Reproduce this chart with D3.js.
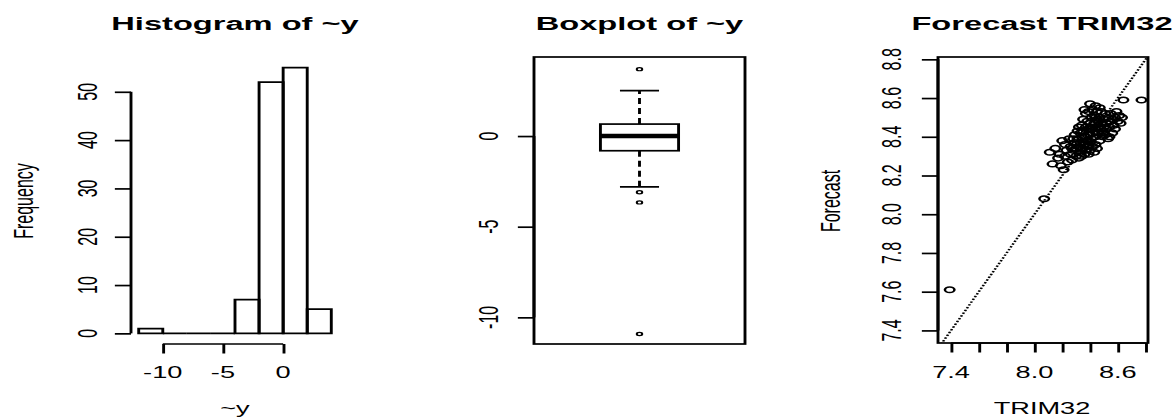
<!DOCTYPE html>
<html>
<head>
  <meta charset="UTF-8">
  <title>Histogram, boxplot and forecast of ~y</title>
  <style>
    body { margin: 0; background: #fff; }
    text { font-family: "Liberation Sans", Arial, sans-serif; fill: #000; }
  </style>
</head>
<body>
<script src="https://d3js.org/d3.v7.min.js"></script>
<script>
// histogram of ~y
let breaks = [-12, -10, -8, -6, -4, -2, 0, 2, 4];
let counts = [1, 0, 0, 0, 7, 52, 55, 5];
let histXTicks = [-10, -5, 0];
let histYTicks = [0, 10, 20, 30, 40, 50];

// boxplot of ~y : lower whisker, Q1, median, Q3, upper whisker
let boxStats = [-2.80, -0.81, 0.00, 0.66, 2.50];
let outliers = [3.69, -3.10, -3.66, -10.92];
let boxYTicks = [-10, -5, 0];

// forecast vs TRIM32
let trim32 = [7.39, 8.07, 8.77, 8.64, 8.40,
  8.11, 8.13, 8.17, 8.15, 8.19, 8.21, 8.18, 8.22, 8.20, 8.24, 8.23, 8.25, 8.22, 8.26, 8.26,
  8.27, 8.28, 8.29, 8.30, 8.30, 8.31, 8.32, 8.32, 8.33, 8.33, 8.34, 8.34, 8.35, 8.36, 8.36,
  8.37, 8.37, 8.38, 8.38, 8.39, 8.40, 8.40, 8.41, 8.42, 8.43, 8.44, 8.45, 8.29, 8.31, 8.28,
  8.32, 8.33, 8.34, 8.35, 8.35, 8.36, 8.37, 8.37, 8.38, 8.39, 8.39, 8.40, 8.40, 8.41, 8.41,
  8.42, 8.42, 8.43, 8.43, 8.44, 8.44, 8.45, 8.45, 8.46, 8.46, 8.47, 8.47, 8.48, 8.48, 8.49,
  8.49, 8.50, 8.50, 8.51, 8.51, 8.52, 8.52, 8.53, 8.53, 8.54, 8.55, 8.55, 8.56, 8.57, 8.58,
  8.59, 8.60, 8.61, 8.62, 8.63, 8.58, 8.44, 8.36, 8.47,
  8.38, 8.42, 8.46, 8.35, 8.40, 8.50, 8.33, 8.44, 8.48, 8.39, 8.56, 8.30, 8.27, 8.54];
let forecast = [7.61, 8.08, 8.59, 8.59, 8.57,
  8.32, 8.26, 8.29, 8.34, 8.25, 8.23, 8.31, 8.36, 8.38, 8.27, 8.33, 8.39, 8.30, 8.31, 8.35,
  8.28, 8.33, 8.37, 8.30, 8.34, 8.39, 8.29, 8.35, 8.32, 8.37, 8.40, 8.30, 8.34, 8.36, 8.31,
  8.38, 8.33, 8.35, 8.41, 8.31, 8.37, 8.33, 8.39, 8.35, 8.32, 8.36, 8.34, 8.41, 8.43, 8.39,
  8.45, 8.42, 8.46, 8.43, 8.49, 8.40, 8.45, 8.52, 8.48, 8.44, 8.53, 8.41, 8.47, 8.50, 8.44,
  8.54, 8.42, 8.47, 8.51, 8.44, 8.40, 8.49, 8.53, 8.45, 8.42, 8.50, 8.38, 8.47, 8.53, 8.43,
  8.40, 8.49, 8.45, 8.52, 8.41, 8.47, 8.44, 8.50, 8.39, 8.45, 8.48, 8.52, 8.42, 8.46, 8.50,
  8.53, 8.48, 8.51, 8.47, 8.50, 8.44, 8.56, 8.54, 8.55,
  8.38, 8.45, 8.48, 8.37, 8.44, 8.42, 8.34, 8.50, 8.44, 8.36, 8.49, 8.36, 8.34, 8.40];
let scatTicks = [7.4, 7.6, 7.8, 8.0, 8.2, 8.4, 8.6, 8.8];
let scatXLabels = ['7.4', '', '', '8.0', '', '', '8.6', ''];
let scatYLabels = ['7.4', '7.6', '7.8', '8.0', '8.2', '8.4', '8.6', '8.8'];

let W = 1175, H = 418;
// the picture is stretched sideways, so draw narrow and scale x
let sx = 1.7;
let px = function (v) { return v / sx; };
let lw = 1.7;
let plotTop = 57, plotBottom = 344;

let svg = d3.select('body').append('svg')
  .attr('width', W)
  .attr('height', H);
let g = svg.append('g').attr('transform', 'scale(' + sx + ',1)');

function leftAxis(sel, scale, ticks, labels, axisX, labelX, ends) {
  let a = sel.append('g')
    .attr('transform', 'translate(' + axisX + ',0)')
    .call(d3.axisLeft(scale).tickValues(ticks).tickSize(9.5).tickSizeOuter(0).tickFormat(''));
  a.select('.domain').attr('d', 'M0,' + scale(ends[0]) + 'V' + scale(ends[1]));
  a.selectAll('line, path').attr('stroke', '#000').attr('stroke-width', lw);
  sel.selectAll(null)
    .data(ticks)
    .enter()
    .append('text')
    .attr('transform', function (d) { return 'translate(' + labelX + ',' + scale(d) + ') rotate(-90)'; })
    .attr('text-anchor', 'middle')
    .attr('font-size', 16)
    .text(function (d, i) { return labels[i]; });
}

function bottomAxis(sel, scale, ticks, labels, axisY, ends) {
  let a = sel.append('g')
    .attr('transform', 'translate(0,' + axisY + ')')
    .call(d3.axisBottom(scale).tickValues(ticks).tickSize(9.5).tickSizeOuter(0).tickFormat(''));
  a.select('.domain').attr('d', 'M' + scale(ends[0]) + ',0H' + scale(ends[1]));
  a.selectAll('line, path').attr('stroke', '#000').attr('stroke-width', lw);
  sel.selectAll(null)
    .data(ticks)
    .enter()
    .append('text')
    .attr('x', function (d) { return scale(d); })
    .attr('y', 378)
    .attr('text-anchor', 'middle')
    .attr('font-size', 16)
    .text(function (d, i) { return labels[i]; });
}

function titles(sel, main, xlab, ylab, cx, ylabX) {
  sel.append('text')
    .attr('x', px(cx)).attr('y', 30)
    .attr('text-anchor', 'middle')
    .attr('font-size', 19.2)
    .attr('font-weight', 'bold')
    .text(main);
  if (xlab) {
    sel.append('text')
      .attr('x', px(cx)).attr('y', 414)
      .attr('text-anchor', 'middle')
      .attr('font-size', 16)
      .text(xlab);
  }
  sel.append('text')
    .attr('transform', 'translate(' + px(ylabX) + ',201) rotate(-90)')
    .attr('text-anchor', 'middle')
    .attr('font-size', 16)
    .text(ylab);
}

// ---- panel 1 : histogram
let h = g.append('g');
let hx = d3.scaleLinear().domain([-12.64, 4.64]).range([px(131), px(339)]);
let hy = d3.scaleLinear().domain([-2.2, 57.2]).range([plotBottom, plotTop]);

h.selectAll('path.bar')
  .data(counts)
  .enter()
  .append('path')
  .attr('class', 'bar')
  .attr('d', function (d, i) {
    return 'M' + hx(breaks[i]) + ',' + hy(0) + 'V' + hy(d) + 'H' + hx(breaks[i + 1]) + 'V' + hy(0) + 'Z';
  })
  .attr('fill', 'none')
  .attr('stroke', '#000')
  .attr('stroke-width', lw);

leftAxis(h, hy, histYTicks, histYTicks.map(String), px(131), px(96.5), [0, 50]);
bottomAxis(h, hx, histXTicks, histXTicks.map(String), plotBottom, [-10, 0]);
titles(h, 'Histogram of ~y', '~y', 'Frequency', 235, 32.8);

// ---- panel 2 : boxplot
let b = g.append('g');
let bx = d3.scaleLinear().domain([0.46, 1.54]).range([px(534), px(745)]);
let by = d3.scaleLinear().domain([-11.47, 4.36]).range([plotBottom, plotTop]);

b.append('rect')
  .attr('x', bx(0.46)).attr('y', plotTop)
  .attr('width', bx(1.54) - bx(0.46)).attr('height', plotBottom - plotTop)
  .attr('fill', 'none').attr('stroke', '#000').attr('stroke-width', lw);

// whiskers
b.selectAll('line.whisk')
  .data([[boxStats[1], boxStats[0]], [boxStats[3], boxStats[4]]])
  .enter()
  .append('line')
  .attr('class', 'whisk')
  .attr('x1', bx(1)).attr('x2', bx(1))
  .attr('y1', function (d) { return by(d[0]); })
  .attr('y2', function (d) { return by(d[1]); })
  .attr('stroke', '#000').attr('stroke-width', lw)
  .attr('stroke-dasharray', '6,4');
b.selectAll('line.cap')
  .data([boxStats[0], boxStats[4]])
  .enter()
  .append('line')
  .attr('class', 'cap')
  .attr('x1', bx(0.9)).attr('x2', bx(1.1))
  .attr('y1', function (d) { return by(d); })
  .attr('y2', function (d) { return by(d); })
  .attr('stroke', '#000').attr('stroke-width', lw);
b.append('rect')
  .attr('x', bx(0.8)).attr('y', by(boxStats[3]))
  .attr('width', bx(1.2) - bx(0.8)).attr('height', by(boxStats[1]) - by(boxStats[3]))
  .attr('fill', '#fff').attr('stroke', '#000').attr('stroke-width', lw);
b.append('line')
  .attr('x1', bx(0.8)).attr('x2', bx(1.2))
  .attr('y1', by(boxStats[2])).attr('y2', by(boxStats[2]))
  .attr('stroke', '#000').attr('stroke-width', 4.5);
b.selectAll('circle')
  .data(outliers)
  .enter()
  .append('circle')
  .attr('cx', bx(1))
  .attr('cy', function (d) { return by(d); })
  .attr('r', 1.6)
  .attr('fill', 'none').attr('stroke', '#000').attr('stroke-width', 1.2);

leftAxis(b, by, boxYTicks, boxYTicks.map(String), px(534), px(497.5), [-10, 0]);
titles(b, 'Boxplot of ~y', null, '', 639.5, 420);

// ---- panel 3 : forecast vs TRIM32
let s = g.append('g');
let sxs = d3.scaleLinear().domain([7.306, 8.817]).range([px(938), px(1148)]);
let sys = d3.scaleLinear().domain([7.335, 8.812]).range([343, plotTop]);

s.append('clipPath').attr('id', 'clipS')
  .append('rect')
  .attr('x', sxs(7.306)).attr('y', plotTop)
  .attr('width', sxs(8.817) - sxs(7.306)).attr('height', 343 - plotTop);

s.append('line')
  .attr('clip-path', 'url(#clipS)')
  .attr('x1', sxs(7.2)).attr('y1', sys(7.2))
  .attr('x2', sxs(9.0)).attr('y2', sys(9.0))
  .attr('stroke', '#000').attr('stroke-width', 1.5)
  .attr('stroke-dasharray', '1.5,1.5');

s.selectAll('circle')
  .data(trim32)
  .enter()
  .append('circle')
  .attr('cx', function (d) { return sxs(d); })
  .attr('cy', function (d, i) { return sys(forecast[i]); })
  .attr('r', 2.8)
  .attr('fill', 'none').attr('stroke', '#000').attr('stroke-width', 1.5);

s.append('rect')
  .attr('x', sxs(7.306)).attr('y', plotTop)
  .attr('width', sxs(8.817) - sxs(7.306)).attr('height', 343 - plotTop)
  .attr('fill', 'none').attr('stroke', '#000').attr('stroke-width', lw);

leftAxis(s, sys, scatTicks, scatYLabels, px(938), px(901), [7.4, 8.8]);
bottomAxis(s, sxs, scatTicks, scatXLabels, 343, [7.4, 8.8]);
titles(s, 'Forecast TRIM32', 'TRIM32', 'Forecast', 1042, 839.5);
</script>
</body>
</html>
